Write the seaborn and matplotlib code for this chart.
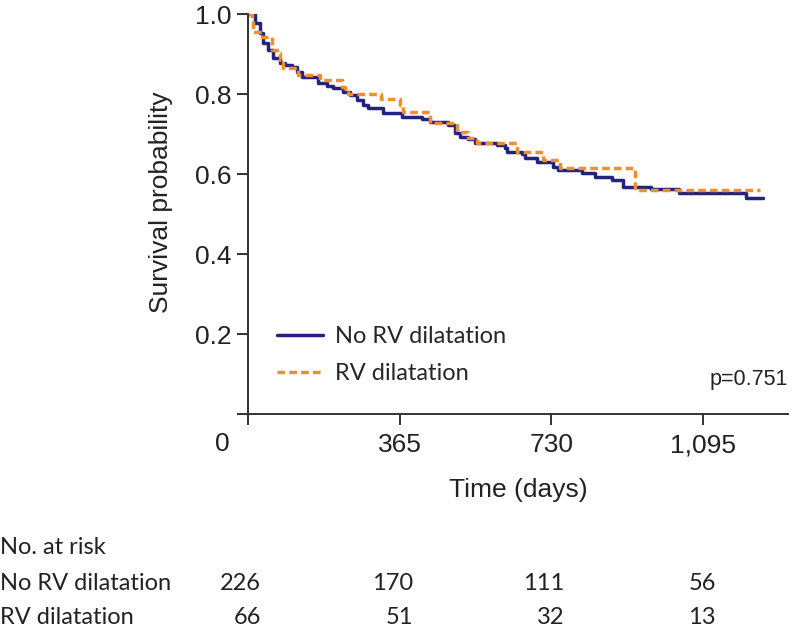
import numpy as np
import pandas as pd
import matplotlib
matplotlib.use("Agg")
import matplotlib.pyplot as plt
import seaborn as sns

# Kaplan-Meier steps (time in days, survival)
no_rv_time = [0, 17, 29, 36, 48, 60, 77, 89, 106, 118, 130, 168, 190, 205, 229, 245,
              262, 277, 289, 325, 370, 419, 438, 481, 498, 510, 529, 546, 599, 618, 623,
              659, 666, 695, 734, 746, 804, 835, 876, 902, 970, 1037, 1200, 1239]
no_rv_surv = [1.0, 0.977, 0.952, 0.927, 0.91, 0.89, 0.877, 0.872, 0.867, 0.855, 0.842,
              0.827, 0.82, 0.815, 0.805, 0.797, 0.785, 0.772, 0.765, 0.752, 0.742,
              0.737, 0.73, 0.722, 0.702, 0.692, 0.687, 0.677, 0.672, 0.665, 0.655,
              0.65, 0.64, 0.63, 0.617, 0.61, 0.602, 0.592, 0.585, 0.567, 0.562, 0.552,
              0.54, 0.54]

rv_time = [0, 10, 12, 34, 58, 70, 77, 84, 113, 120, 173, 226, 233, 240, 320, 366, 373,
           438, 502, 529, 551, 647, 710, 751, 931, 1232]
rv_surv = [1.0, 0.985, 0.955, 0.943, 0.91, 0.902, 0.885, 0.865, 0.86, 0.847, 0.835,
           0.817, 0.805, 0.8, 0.787, 0.772, 0.755, 0.727, 0.705, 0.69, 0.677, 0.655,
           0.635, 0.615, 0.56, 0.56]

groups = ["No RV dilatation", "RV dilatation"]
risk_times = [0, 365, 730, 1095]
risk_no_rv = [226, 170, 111, 56]
risk_rv = [66, 51, 32, 13]

df = pd.concat([
    pd.DataFrame({"time": no_rv_time, "surv": no_rv_surv, "group": groups[0]}),
    pd.DataFrame({"time": rv_time, "surv": rv_surv, "group": groups[1]}),
])

sns.set_style("ticks")
plt.rcParams["font.family"] = ["Liberation Sans", "DejaVu Sans"]
plex = ["Lato", "DejaVu Sans"]

fig = plt.figure(figsize=(7.94, 6.29), dpi=100)
ax = fig.add_axes([248 / 794, 215 / 629, 540 / 794, 400 / 629])

sns.lineplot(data=df, x="time", y="surv", hue="group", style="group",
             palette={groups[0]: "#23237e", groups[1]: "#ef8f2c"},
             dashes={groups[0]: "", groups[1]: (2.2, 1.2)},
             estimator=None, sort=False, drawstyle="steps-post",
             linewidth=2.5, ax=ax, legend=False)

ax.set_xlim(0, 1300)
ax.set_ylim(0, 1.0)
sns.despine(ax=ax)
for s in ["left", "bottom"]:
    ax.spines[s].set_linewidth(1.4)
    ax.spines[s].set_color("#333333")

ax.set_xticks(risk_times)
ax.set_xticklabels(["", "365", "730", "1,095"])
ax.set_yticks([0, 0.2, 0.4, 0.6, 0.8, 1.0])
ax.set_yticklabels(["", "0.2", "0.4", "0.6", "0.8", "1.0"])
ax.tick_params(length=8, width=1.4, color="#333333", labelsize=19, labelcolor="#222222")
ax.tick_params(axis="x", pad=6)
ax.tick_params(axis="y", pad=4)
ax.text(-26 / 0.4156, -30 / 400, "0", ha="center", va="center", fontsize=19, color="#222222")

ax.set_xlabel("Time (days)", fontsize=19, color="#222222")
ax.set_ylabel("Survival probability", fontsize=19, color="#222222")
ax.xaxis.set_label_coords(0.5, -0.16)
ax.yaxis.set_label_coords(-0.139, 0.53)

handles = [plt.Line2D([], [], color="#23237e", lw=2.5),
           plt.Line2D([], [], color="#ef8f2c", lw=2.5, dashes=(2.2, 1.2))]
ax.legend(handles, groups, loc="upper left", bbox_to_anchor=(0.054, 0.22),
          frameon=False, borderpad=0, borderaxespad=0, handlelength=1.95,
          handletextpad=0.5, labelspacing=0.68, prop={"family": plex, "size": 17})

ax.text(1.0, 0.085, "p=0.751", transform=ax.transAxes, ha="right", va="center",
        fontsize=15.5, color="#222222")

# number at risk table
trans = ax.get_xaxis_transform()
fig.text(0.0, 1 - 548 / 629, "No. at risk", ha="left", va="center", family=plex, fontsize=17, color="#222222")
fig.text(0.0, 1 - 583 / 629, groups[0], ha="left", va="center", family=plex, fontsize=17, color="#222222")
fig.text(0.0, 1 - 617 / 629, groups[1], ha="left", va="center", family=plex, fontsize=17, color="#222222")
for t, a, b in zip(risk_times, risk_no_rv, risk_rv):
    ax.text(t + 32, (414 - 583) / 400, str(a), transform=trans, ha="right", va="center",
            family=plex, fontsize=17, color="#222222", clip_on=False)
    ax.text(t + 32, (414 - 617) / 400, str(b), transform=trans, ha="right", va="center",
            family=plex, fontsize=17, color="#222222", clip_on=False)

fig.savefig("out.png", dpi=100)
